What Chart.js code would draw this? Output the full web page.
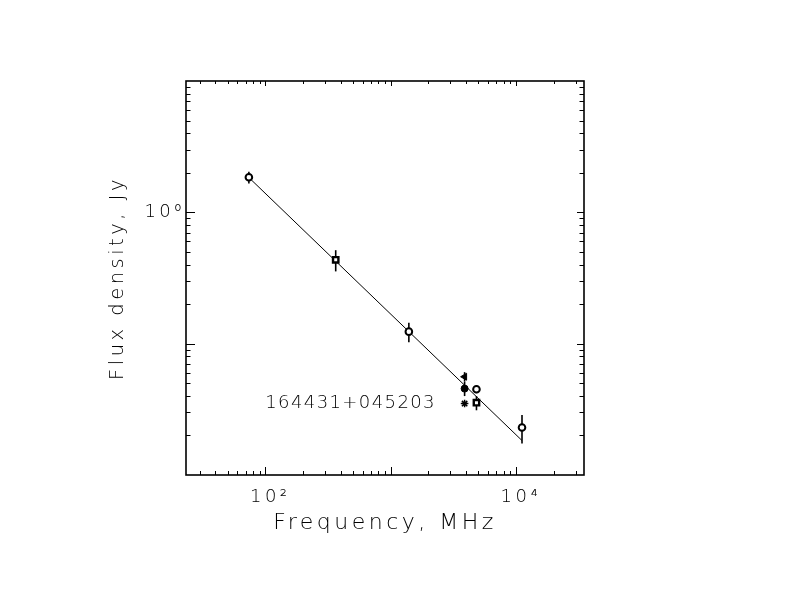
<!DOCTYPE html>
<html><head><meta charset="utf-8">
<script src="https://cdn.jsdelivr.net/npm/chart.js@4.4.0/dist/chart.umd.min.js"></script>
<style>html,body{margin:0;padding:0;background:#fff;}#wrap{width:792px;height:612px;}</style>
</head><body>
<div id="wrap"><canvas id="c" width="792" height="612"></canvas></div>
<script>
const sourceName = '164431+045203';
const xTitle = 'Frequency, MHz';
const yTitle = 'Flux density, Jy';

const openCircleFreq = [74, 1400, 4850, 11200];
const openCircleFlux = [1.85, 0.1235, 0.045, 0.023];
const openCircleErr  = [0.19, 0.021, 0.003, 0.0056];

const openSquareFreq = [365, 4850];
const openSquareFlux = [0.435, 0.0355];
const openSquareErr  = [0.08, 0.0044];

const filledCircleFreq = [3900];
const filledCircleFlux = [0.0455];
const filledCircleErr  = [0.0056];

const triangleFreq = [3900];
const triangleFlux = [0.056];
const triangleErr  = [0.0047];

const asteriskFreq = [3900];
const asteriskFlux = [0.035];

const fitFreq = [74, 11200];
const fitFlux = [1.84, 0.0183];

const xRange = [23.3, 35000];
const yRange = [0.01, 10];
const xLabelTicks = [100, 10000];
const xTickLabels = ['10²', '10⁴'];
const yLabelTicks = [1];
const yTickLabels = ['10⁰'];
const xMajorTicks = [100, 1000, 10000];
const xMinorTicks = [30, 40, 50, 60, 70, 80, 90, 200, 300, 400, 500, 600, 700, 800, 900,
  2000, 3000, 4000, 5000, 6000, 7000, 8000, 9000, 20000, 30000];
const yMajorTicks = [0.1, 1];
const yMinorTicks = [0.02, 0.03, 0.04, 0.05, 0.06, 0.07, 0.08, 0.09,
  0.2, 0.3, 0.4, 0.5, 0.6, 0.7, 0.8, 0.9, 2, 3, 4, 5, 6, 7, 8, 9];
const sourceLabelPos = [100, 0.035];

const FAMILY = "'DejaVu Sans Light', 'DejaVu Sans', sans-serif";
const pts = (fs, ys) => fs.map((f, i) => ({x: f, y: ys[i]}));

const errorBars = {
  id: 'errorBars',
  beforeDatasetsDraw(chart) {
    const {ctx, scales: {x, y}} = chart;
    ctx.save();
    ctx.strokeStyle = '#000';
    ctx.lineWidth = 1.6;
    chart.data.datasets.forEach(ds => {
      if (!ds.errors) return;
      ds.data.forEach((p, i) => {
        const e = ds.errors[i];
        const px = x.getPixelForValue(p.x);
        ctx.beginPath();
        ctx.moveTo(px, y.getPixelForValue(p.y + e));
        ctx.lineTo(px, y.getPixelForValue(Math.max(p.y - e, 1e-6)));
        ctx.stroke();
      });
    });
    ctx.restore();
  }
};

const frame = {
  id: 'frame',
  beforeDraw(chart) { chart.ctx.letterSpacing = '3.5px'; },
  afterDraw(chart) {
    const {ctx, chartArea: {left, right, top, bottom}, scales: {x, y}} = chart;
    ctx.save();
    ctx.letterSpacing = '0px';
    ctx.strokeStyle = '#000';
    ctx.lineWidth = 1;
    const seg = (a, b, c, d) => { ctx.beginPath(); ctx.moveTo(a, b); ctx.lineTo(c, d); ctx.stroke(); };
    const xt = (v, lb, lt) => { const p = Math.round(x.getPixelForValue(v)) + 0.5; seg(p, bottom, p, bottom - lb); seg(p, top, p, top + lt); };
    const yt = (v, ll, lr) => { const p = Math.round(y.getPixelForValue(v)) + 0.5; seg(left, p, left + ll, p); seg(right, p, right - lr, p); };
    xMinorTicks.forEach(v => xt(v, 4, 3));
    xMajorTicks.forEach(v => xt(v, 8, 5));
    yMinorTicks.forEach(v => yt(v, 4.5, 4.5));
    yMajorTicks.forEach(v => yt(v, 9, 7));
    ctx.lineWidth = 1.6;
    ctx.strokeRect(left, top, right - left, bottom - top);
    // source name annotation
    ctx.letterSpacing = '1.4px';
    ctx.fillStyle = '#000';
    ctx.font = `200 18px ${FAMILY}`;
    ctx.textAlign = 'left';
    ctx.textBaseline = 'middle';
    ctx.fillText(sourceName, x.getPixelForValue(sourceLabelPos[0]), y.getPixelForValue(sourceLabelPos[1]));
    ctx.restore();
    ctx.letterSpacing = '0px';
  }
};

new Chart(document.getElementById('c'), {
  type: 'scatter',
  data: {
    datasets: [
      {label: 'open circles', data: pts(openCircleFreq, openCircleFlux), errors: openCircleErr,
       pointStyle: 'circle', pointRadius: 3.3, borderWidth: 2, borderColor: '#000', backgroundColor: '#fff', order: 1},
      {label: 'open squares', data: pts(openSquareFreq, openSquareFlux), errors: openSquareErr,
       pointStyle: 'rect', pointRadius: 3.8, borderWidth: 2.4, borderColor: '#000', backgroundColor: '#fff', order: 1},
      {label: 'filled circle', data: pts(filledCircleFreq, filledCircleFlux), errors: filledCircleErr,
       pointStyle: 'circle', pointRadius: 3.5, borderWidth: 1, borderColor: '#000', backgroundColor: '#000', order: 1},
      {label: 'triangle', data: pts(triangleFreq, triangleFlux), errors: triangleErr,
       pointStyle: 'triangle', rotation: -90, pointRadius: 4, borderWidth: 1, borderColor: '#000', backgroundColor: '#000', order: 1},
      {label: 'asterisk', data: pts(asteriskFreq, asteriskFlux),
       pointStyle: 'star', pointRadius: 3.8, borderWidth: 1.5, borderColor: '#000', backgroundColor: '#000', order: 1},
      {label: 'fit', type: 'line', data: pts(fitFreq, fitFlux), showLine: true, pointRadius: 0,
       borderWidth: 1, borderColor: '#000', fill: false, order: 5}
    ]
  },
  options: {
    responsive: false,
    animation: false,
    devicePixelRatio: 1,
    layout: {padding: {left: 0, top: 81, right: 208, bottom: 0}},
    plugins: {legend: {display: false}, tooltip: {enabled: false}},
    scales: {
      x: {
        type: 'logarithmic', position: 'bottom', min: xRange[0], max: xRange[1],
        grid: {display: false, drawTicks: false}, border: {display: false},
        afterBuildTicks: s => { s.ticks = xLabelTicks.map(v => ({value: v})); },
        afterFit: s => { s.height = 137; },
        ticks: {autoSkip: false, maxRotation: 0, padding: 12, labelOffset: 5, color: '#000',
          font: {family: FAMILY, size: 18, weight: '200'},
          callback: v => { const i = xLabelTicks.indexOf(v); return i >= 0 ? xTickLabels[i] : ''; }},
        title: {display: true, text: xTitle, color: '#000', font: {family: FAMILY, size: 22, weight: '200'},
          padding: {top: 0, bottom: 76}}
      },
      y: {
        type: 'logarithmic', position: 'left', min: yRange[0], max: yRange[1],
        grid: {display: false, drawTicks: false}, border: {display: false},
        afterBuildTicks: s => { s.ticks = yLabelTicks.map(v => ({value: v})); },
        afterFit: s => { s.width = 186; },
        ticks: {autoSkip: false, padding: 1, color: '#000',
          font: {family: FAMILY, size: 18, weight: '200'},
          callback: v => { const i = yLabelTicks.indexOf(v); return i >= 0 ? yTickLabels[i] : ''; }},
        title: {display: true, text: yTitle, color: '#000', font: {family: FAMILY, size: 19.5, weight: '200'},
          padding: {top: 106, bottom: 0}}
      }
    }
  },
  plugins: [errorBars, frame]
});
</script>
</body></html>
